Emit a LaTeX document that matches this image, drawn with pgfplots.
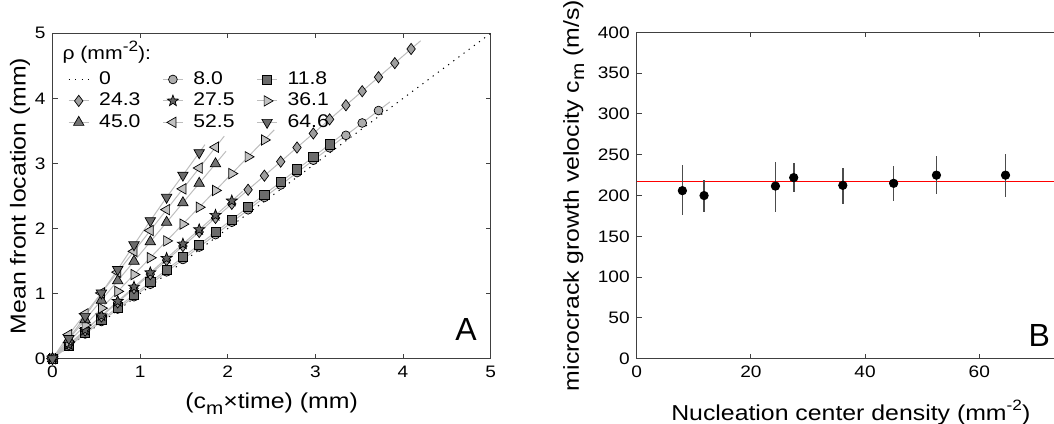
\documentclass[border=0pt]{standalone}
\usepackage{fontspec}
\setmainfont[FakeStretch=1.15]{Liberation Sans}
\newfontfamily\plainfont{Liberation Sans}
\usepackage{xcolor}
\usepackage{pgfplots}
\pgfplotsset{compat=1.18}
\usetikzlibrary{plotmarks}
\newcommand\tfs{\fontsize{8.3}{10}\selectfont}
\newcommand\lfs{\fontsize{10.8}{13}\selectfont}
\newcommand\gfs{\fontsize{9.2}{11}\selectfont}
\newcommand\sbm{\raisebox{-0.45ex}{\fontsize{9}{9}\selectfont m}}
\newcommand\spr{\raisebox{0.85ex}{\fontsize{7.5}{7.5}\selectfont -2}}
\definecolor{fitgray}{gray}{0.74}
\definecolor{mred}{RGB}{255,0,0}
\pgfdeclareplotmark{pent}{%
  \pgfpathmoveto{\pgfpointpolar{90}{\pgfplotmarksize}}%
  \pgfpathlineto{\pgfpointpolar{126}{0.42\pgfplotmarksize}}%
  \pgfpathlineto{\pgfpointpolar{162}{\pgfplotmarksize}}%
  \pgfpathlineto{\pgfpointpolar{198}{0.42\pgfplotmarksize}}%
  \pgfpathlineto{\pgfpointpolar{234}{\pgfplotmarksize}}%
  \pgfpathlineto{\pgfpointpolar{270}{0.42\pgfplotmarksize}}%
  \pgfpathlineto{\pgfpointpolar{306}{\pgfplotmarksize}}%
  \pgfpathlineto{\pgfpointpolar{342}{0.42\pgfplotmarksize}}%
  \pgfpathlineto{\pgfpointpolar{18}{\pgfplotmarksize}}%
  \pgfpathlineto{\pgfpointpolar{54}{0.42\pgfplotmarksize}}%
  \pgfpathclose\pgfusepathqfillstroke}
\pgfplotsset{
  common/.style={
    scale only axis,
    tick align=inside,
    major tick length=2.5pt,
    axis line style={black!75, line width=0.5pt},
    every tick/.style={black!75, line width=0.5pt},
    tick label style={font=\tfs},
    label style={font=\lfs},
    /pgf/number format/assume math mode=true,
  },
}
\begin{document}
\begin{tikzpicture}
\path[use as bounding box] (-26.25pt,-32.15pt) rectangle (500.75pt,179.35pt);
% ---------------- Panel A ----------------
\begin{axis}[common,
  at={(0pt,0pt)}, anchor=south west,
  width=219.1pt, height=162.7pt,
  xmin=0, xmax=5, ymin=0, ymax=5,
  xtick={0,1,2,3,4,5}, ytick={0,1,2,3,4,5},
  xlabel={(c\sbm{}×time) (mm)},
  xlabel style={yshift=-1pt},
  ylabel={Mean front location (mm)},
  ylabel shift=-4.5pt,
  legend columns=3,
  legend cell align=left,
  legend style={at={(0.035,0.896)}, anchor=north west, draw=none, fill=none,
    font=\gfs, inner sep=0pt, row sep=-1.2pt,
    /tikz/every even column/.append style={column sep=9pt},
    /tikz/every odd column/.append style={column sep=3pt}},
  legend image code/.code={\draw[mark repeat=2,mark phase=2,#1] plot coordinates {(0pt,0pt)(5pt,0pt)(10pt,0pt)};},
]
\addplot[black, line width=0.5pt, dash pattern=on 0.6pt off 2.6pt] coordinates {(0,0) (5,5)};
\addlegendentry{0}
\addplot[fitgray, line width=0.5pt, mark=*, mark size=2.2pt, mark options={solid, draw=black, fill=black!32, line width=0.35pt}] coordinates {
(0,0) (0.186,0.191) (0.372,0.381) (0.558,0.572) (0.744,0.763) (0.930,0.953) (1.116,1.144) (1.302,1.335) (1.488,1.525) (1.674,1.716) (1.860,1.907) (2.046,2.097) (2.232,2.288) (2.418,2.478) (2.604,2.669) (2.790,2.860) (2.976,3.050) (3.162,3.241) (3.348,3.432) (3.534,3.622) (3.720,3.813)};
\addlegendentry{8.0}
\addplot[fitgray, line width=0.5pt, mark=square*, mark size=2.3pt, mark options={solid, draw=black, fill=black!58, line width=0.35pt}] coordinates {
(0,0) (0.186,0.205) (0.372,0.405) (0.558,0.598) (0.744,0.790) (0.930,0.983) (1.116,1.175) (1.302,1.368) (1.488,1.560) (1.674,1.753) (1.860,1.945) (2.046,2.138) (2.232,2.330) (2.418,2.523) (2.604,2.715) (2.790,2.908) (2.976,3.100) (3.162,3.293)};
\addlegendentry{11.8}
\addplot[fitgray, line width=0.5pt, mark=diamond*, mark size=2.8pt, mark options={solid, draw=black, fill=black!38, line width=0.35pt}] coordinates {
(0,0) (0.186,0.216) (0.372,0.433) (0.558,0.649) (0.744,0.865) (0.930,1.082) (1.116,1.298) (1.302,1.514) (1.488,1.731) (1.674,1.947) (1.860,2.163) (2.046,2.379) (2.232,2.596) (2.418,2.812) (2.604,3.028) (2.790,3.245) (2.976,3.461) (3.162,3.677) (3.348,3.894) (3.534,4.110) (3.720,4.326) (3.906,4.542) (4.092,4.759)};
\addlegendentry{24.3}
\addplot[fitgray, line width=0.5pt, mark=pent, mark size=2.9pt, mark options={solid, draw=black, fill=black!62, line width=0.35pt}] coordinates {
(0,0) (0.186,0.220) (0.372,0.441) (0.558,0.661) (0.744,0.882) (0.930,1.102) (1.116,1.322) (1.302,1.543) (1.488,1.763) (1.674,1.984) (1.860,2.204) (2.046,2.425)};
\addlegendentry{27.5}
\addplot[fitgray, line width=0.5pt, mark=triangle*, mark size=3pt, mark options={solid, rotate=-90, draw=black, fill=black!24, line width=0.35pt}] coordinates {
(0,0) (0.186,0.259) (0.372,0.517) (0.558,0.776) (0.744,1.034) (0.930,1.293) (1.116,1.551) (1.302,1.810) (1.488,2.068) (1.674,2.327) (1.860,2.585) (2.046,2.844) (2.232,3.102) (2.418,3.361)};
\addlegendentry{36.1}
\addplot[fitgray, line width=0.5pt, mark=triangle*, mark size=3pt, mark options={solid, draw=black, fill=black!55, line width=0.35pt}] coordinates {
(0,0) (0.186,0.299) (0.372,0.599) (0.558,0.898) (0.744,1.198) (0.930,1.497) (1.116,1.797) (1.302,2.096) (1.488,2.396) (1.674,2.695) (1.860,2.995)};
\addlegendentry{45.0}
\addplot[fitgray, line width=0.5pt, mark=triangle*, mark size=3pt, mark options={solid, rotate=90, draw=black, fill=black!24, line width=0.35pt}] coordinates {
(0,0) (0.186,0.37) (0.372,0.69) (0.558,1.01) (0.744,1.33) (0.930,1.65) (1.116,1.97) (1.302,2.29) (1.488,2.61) (1.674,2.93) (1.860,3.25)};
\addlegendentry{52.5}
\addplot[fitgray, line width=0.5pt, mark=triangle*, mark size=3pt, mark options={solid, rotate=180, draw=black, fill=black!58, line width=0.35pt}] coordinates {
(0,0) (0.186,0.31) (0.372,0.65) (0.558,1.01) (0.744,1.37) (0.930,1.75) (1.116,2.12) (1.302,2.48) (1.488,2.82) (1.674,3.165)};
\addlegendentry{64.6}
% fit line extensions
\addplot[fitgray, line width=0.5pt, forget plot] coordinates {(3.720,3.813) (3.85,3.946)};
\addplot[fitgray, line width=0.5pt, forget plot] coordinates {(3.162,3.293) (3.30,3.436)};
\addplot[fitgray, line width=0.5pt, forget plot] coordinates {(4.092,4.759) (4.20,4.885)};
\addplot[fitgray, line width=0.5pt, forget plot] coordinates {(2.046,2.425) (2.17,2.572)};
\addplot[fitgray, line width=0.5pt, forget plot] coordinates {(2.418,3.361) (2.53,3.517)};
\addplot[fitgray, line width=0.5pt, forget plot] coordinates {(1.860,2.995) (1.98,3.188)};
\addplot[fitgray, line width=0.5pt, forget plot] coordinates {(1.860,3.25) (1.96,3.42)};
\addplot[fitgray, line width=0.5pt, forget plot] coordinates {(1.674,3.165) (1.74,3.29)};
\node[anchor=west, font=\gfs, inner sep=0pt] at (rel axis cs:0.022,0.9425) {ρ (mm\spr):};
\node[font=\plainfont\fontsize{16}{16}\selectfont] at (rel axis cs:0.944,0.091) {A};
\end{axis}
% ---------------- Panel B ----------------
\begin{axis}[common,
  at={(292.1pt,0pt)}, anchor=south west,
  width=214.1pt, height=163.15pt,
  xmin=0, xmax=75, ymin=0, ymax=400,
  clip=false,
  xtick={0,20,40,60}, ytick={0,50,...,400},
  xlabel={Nucleation center density (mm\spr)},
  xlabel style={yshift=-4.5pt},
  ylabel={microcrack growth velocity c\sbm{} (m/s)},
]
\addplot[color=mred, line width=0.8pt, forget plot] coordinates {(0,217) (75,217)};
\addplot[only marks, mark=*, mark size=2.1pt, black,
  error bars/.cd, y dir=both, y explicit,
  error bar style={line width=0.8pt, black!70}, error mark=none]
coordinates {
(8.0,206) += (0,31) -= (0,30)
(11.8,200) += (0,19) -= (0,20)
(24.3,211.6) += (0,30) -= (0,31.4)
(27.5,222) += (0,18) -= (0,18)
(36.1,212.5) += (0,21) -= (0,22.5)
(45.0,215) += (0,21.6) -= (0,22)
(52.5,225) += (0,24) -= (0,23)
(64.6,225) += (0,26) -= (0,26.4)
};
\node[font=\plainfont\fontsize{16}{16}\selectfont] at (rel axis cs:0.940,0.071) {B};
\end{axis}
\end{tikzpicture}
\end{document}
